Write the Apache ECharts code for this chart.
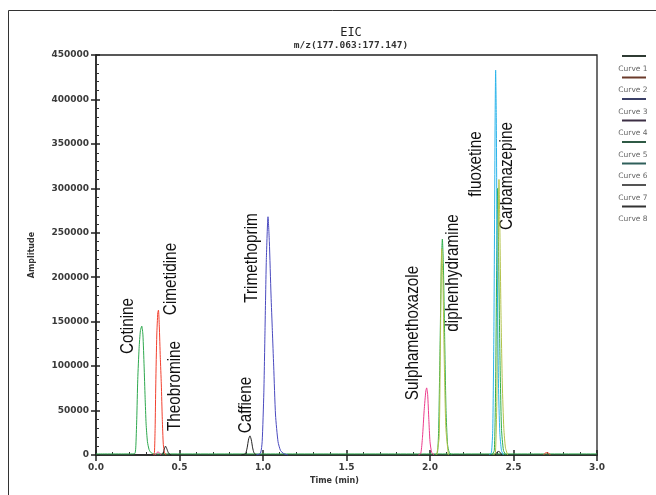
<!DOCTYPE html>
<html><head><meta charset="utf-8">
<script src="https://cdn.jsdelivr.net/npm/echarts@6/dist/echarts.min.js"></script>
<style>html,body{margin:0;padding:0;background:#fff}#c{width:656px;height:495px}</style>
</head><body><div id="c"></div>
<script>
// ---------------- data (time in min, amplitude) ----------------
const chartTitle = 'EIC';
const chartSubtitle = 'm/z(177.063:177.147)';
const xName = 'Time (min)';
const yName = 'Amplitude';
const curveNames = ['Curve 1','Curve 2','Curve 3','Curve 4','Curve 5','Curve 6','Curve 7','Curve 8'];
const compoundNames = ['Cotinine','Cimetidine','Theobromine','Caffiene','Trimethoprim','Sulphamethoxazole','diphenhydramine','fluoxetine','Carbamazepine'];

// green trace: baseline + Cotinine
const greenTrace = [[0,1200],[0.2,1200],[0.232,1500],[0.238,8000],[0.244,40000],[0.25,85000],[0.258,120000],[0.266,140000],[0.274,145000],[0.281,135000],[0.288,100000],[0.294,65000],[0.3,35000],[0.308,15000],[0.318,6000],[0.33,2500],[0.35,1200],[1.0,1200],[1.5,1200],[2.0,1200],[2.5,1200],[3.0,1200]];
// red trace: Cimetidine + small bump
const redTrace = [[0.345,0],[0.35,3000],[0.354,30000],[0.358,80000],[0.364,135000],[0.37,160000],[0.374,163000],[0.379,145000],[0.385,110000],[0.391,80000],[0.397,40000],[0.403,12000],[0.41,3000],[0.42,0],[0.43,null],[2.68,0],[2.693,2500],[2.707,2500],[2.72,0]];
// black trace: Theobromine, Caffiene, small bump
const blackTrace = [[0.39,0],[0.4,1500],[0.408,6000],[0.416,10000],[0.424,7000],[0.432,3000],[0.44,1000],[0.45,0],[0.46,null],[0.87,0],[0.895,1500],[0.905,8000],[0.914,18000],[0.922,21500],[0.93,17000],[0.938,8000],[0.946,2500],[0.96,0],[0.97,null],[2.39,0],[2.4,3000],[2.41,4000],[2.42,3000],[2.43,0]];
// blue trace: Trimethoprim
const blueTrace = [[0.96,0],[0.985,2000],[0.995,15000],[1.005,70000],[1.012,140000],[1.02,220000],[1.03,268000],[1.038,240000],[1.048,180000],[1.056,140000],[1.064,100000],[1.075,45000],[1.09,15000],[1.105,5000],[1.125,1500],[1.15,0]];
// pink trace: small bump + Sulphamethoxazole
const pinkTrace = [[0.35,0],[0.36,1000],[0.37,3500],[0.38,2500],[0.39,0],[0.4,null],[1.93,0],[1.945,2000],[1.955,20000],[1.965,50000],[1.975,72000],[1.98,75500],[1.986,68000],[1.993,40000],[2.0,15000],[2.01,3000],[2.025,0]];
// green 2 trace: diphenhydramine + under Carbamazepine
const green2Trace = [[2.03,0],[2.045,3000],[2.052,30000],[2.06,120000],[2.068,215000],[2.074,243000],[2.08,215000],[2.088,130000],[2.096,50000],[2.105,12000],[2.115,3000],[2.13,0],[2.14,null],[2.37,0],[2.385,5000],[2.393,80000],[2.4,230000],[2.405,300000],[2.41,240000],[2.418,120000],[2.428,30000],[2.44,5000],[2.455,0]];
// olive trace: Carbamazepine + near diphenhydramine
const oliveTrace = [[2.04,0],[2.055,20000],[2.062,120000],[2.07,232000],[2.077,200000],[2.085,110000],[2.095,30000],[2.11,0],[2.12,null],[2.38,0],[2.392,3000],[2.4,60000],[2.406,200000],[2.413,310000],[2.418,260000],[2.425,160000],[2.433,80000],[2.442,30000],[2.452,8000],[2.465,0]];
// cyan trace: fluoxetine
const cyanTrace = [[2.355,0],[2.368,3000],[2.376,30000],[2.383,150000],[2.39,380000],[2.393,433000],[2.397,380000],[2.402,220000],[2.41,80000],[2.418,25000],[2.428,5000],[2.44,0]];

// ---------------- styles / layout ----------------
const traceStyles = [
  {data: greenTrace,  color:'#2ea84e'},
  {data: redTrace,    color:'#f2402f'},
  {data: blackTrace,  color:'#222222'},
  {data: blueTrace,   color:'#4a4abf'},
  {data: pinkTrace,   color:'#ec3c8c'},
  {data: green2Trace, color:'#2fae4a'},
  {data: oliveTrace,  color:'#b3c24a'},
  {data: cyanTrace,   color:'#2bb4ea'}
];
const legendColors = ['#2f3b33','#6b3a2a','#3a3f66','#3c2f45','#2f5a45','#2f5f5a','#555555','#333333'];
const labelPos = [[128,326],[171,279],[175,386],[246.5,405],[252,258],[413,333],[453,273],[476,164],[507.5,176]];

const G = {left:96, right:59, top:55, bottom:40};
const tickFont = {fontFamily:'DejaVu Sans', fontSize:9, fontWeight:'bold', color:'#3a3a3a'};

const chart = echarts.init(document.getElementById('c'), null, {renderer:'canvas'});

const graphics = [];
graphics.push({type:'rect', shape:{x:8.5,y:10.5,width:700,height:600}, style:{fill:'none', stroke:'#333', lineWidth:1}, silent:true});
compoundNames.forEach((n,i)=>{
  graphics.push({type:'text', x:labelPos[i][0], y:labelPos[i][1], rotation:Math.PI/2, scaleX:0.85,
    style:{text:n, fill:'#111', font:'18px "Liberation Sans", Arial, sans-serif', align:'center', verticalAlign:'middle'}});
});
curveNames.forEach((n,i)=>{
  const y = 56 + i*21.5;
  graphics.push({type:'line', shape:{x1:622,y1:y,x2:646,y2:y}, style:{stroke:legendColors[i], lineWidth:2}});
  graphics.push({type:'text', x:633, y:y+13, style:{text:n, fill:'#666', font:'7.5px "DejaVu Sans", sans-serif', align:'center', verticalAlign:'middle'}});
});

const option = {
  animation:false,
  backgroundColor:'#fff',
  title:{text:chartTitle, subtext:chartSubtitle, left:346, top:22, textAlign:'center', itemGap:2,
    textStyle:{fontFamily:'DejaVu Sans Mono', fontSize:12, fontWeight:'normal', color:'#222'},
    subtextStyle:{fontFamily:'DejaVu Sans Mono', fontSize:9.5, fontWeight:'bold', color:'#333'}},
  grid:{left:G.left, right:G.right, top:G.top, bottom:G.bottom, show:true, borderColor:'#222', borderWidth:1.3, outerBoundsMode:'none', containLabel:false},
  xAxis:[
    {type:'value', min:0, max:3, interval:0.5, position:'bottom',
     axisLine:{lineStyle:{color:'#222', width:1.5}},
     axisTick:{inside:true, length:5, lineStyle:{color:'#222', width:1.5}},
     minorTick:{show:true, splitNumber:5, length:3, lineStyle:{color:'#333', width:1}},
     splitLine:{show:false}, minorSplitLine:{show:false},
     axisLabel:Object.assign({formatter:v=>v.toFixed(1), margin:8}, tickFont),
     name:xName, nameLocation:'middle', nameGap:22,
     nameTextStyle:{fontFamily:'DejaVu Sans', fontSize:8, fontWeight:'bold', color:'#333', padding:[0,24,0,0]}},
    {type:'value', min:0, max:3, interval:0.5, position:'bottom',
     axisLine:{show:false}, axisLabel:{show:false}, splitLine:{show:false},
     axisTick:{inside:false, length:6, lineStyle:{color:'#222', width:1.5}}}
  ],
  yAxis:[
    {type:'value', min:0, max:450000, interval:50000, position:'left',
     axisLine:{show:true, lineStyle:{color:'#222', width:1.5}},
     axisTick:{show:true, inside:true, length:4, lineStyle:{color:'#222', width:1.5}},
     minorTick:{show:true, splitNumber:5, length:3, lineStyle:{color:'#333', width:1}},
     splitLine:{show:false}, minorSplitLine:{show:false},
     axisLabel:Object.assign({margin:7, formatter:v=>String(v)}, tickFont),
     name:yName, nameLocation:'middle', nameGap:60, nameRotate:90,
     nameTextStyle:{fontFamily:'DejaVu Sans', fontSize:8, fontWeight:'bold', color:'#333'}},
    {type:'value', min:0, max:450000, interval:50000, position:'left',
     axisLine:{show:false}, axisLabel:{show:false}, splitLine:{show:false},
     axisTick:{show:true, inside:false, length:5, lineStyle:{color:'#222', width:1.5}}}
  ],
  series: traceStyles.map((t,i)=>({
    type:'line', xAxisIndex:0, yAxisIndex:0, data:t.data, showSymbol:false, symbol:'none',
    smooth:0.2, connectNulls:false, lineStyle:{color:t.color, width:1}, z:2+i
  })),
  graphic: graphics
};
chart.setOption(option);
</script></body></html>
